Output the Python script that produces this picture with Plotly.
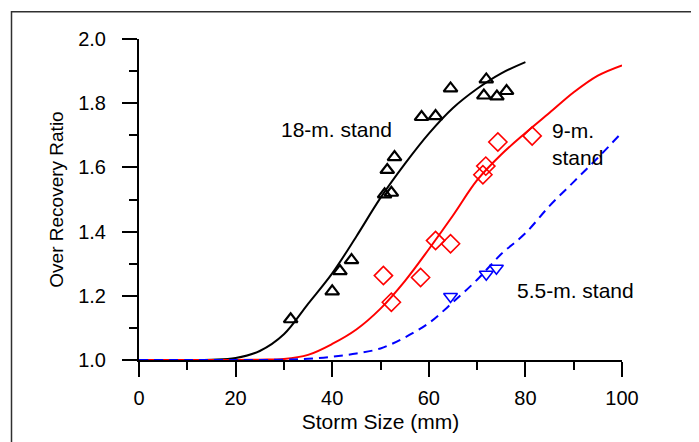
import plotly.graph_objects as go

# ---- data ----
tri18_x = [31.4, 40.0, 41.6, 44.0, 50.85, 52.25, 51.4, 52.9, 58.5, 61.4, 64.5, 71.9, 71.4, 74.1, 76.1]
tri18_y = [1.127, 1.214, 1.277, 1.311, 1.516, 1.521, 1.592, 1.632, 1.757, 1.760, 1.846, 1.874, 1.824, 1.821, 1.838]

dia9_x = [50.6, 52.25, 58.3, 61.4, 64.5, 71.2, 71.8, 74.3, 81.4]
dia9_y = [1.263, 1.180, 1.257, 1.372, 1.362, 1.577, 1.604, 1.679, 1.698]

tri55_x = [64.5, 71.9, 74.0]
tri55_y = [1.198, 1.267, 1.286]

fit18_x = [0, 10, 15, 20, 25, 30, 35, 40, 45, 50, 55, 60, 65, 70, 75, 80]
fit18_y = [1.0, 1.0, 1.001, 1.006, 1.028, 1.08, 1.175, 1.27, 1.385, 1.505, 1.61, 1.705, 1.785, 1.845, 1.893, 1.928]

fit9_x = [0, 10, 20, 25, 30, 35, 40, 45, 50, 55, 60, 65, 70, 75, 80, 85, 90, 95, 100]
fit9_y = [1.0, 1.0, 1.0, 1.001, 1.003, 1.016, 1.05, 1.095, 1.16, 1.245, 1.345, 1.45, 1.56, 1.64, 1.707, 1.77, 1.834, 1.886, 1.918]

fit55_x = [0, 10, 20, 30, 35, 40, 45, 50, 55, 60, 65, 70, 75, 80, 85, 90, 95, 100]
fit55_y = [1.0, 1.0, 1.0, 1.001, 1.004, 1.01, 1.02, 1.036, 1.07, 1.115, 1.18, 1.25, 1.33, 1.395, 1.48, 1.555, 1.63, 1.709]

x_ticks = [0, 20, 40, 60, 80, 100]
y_ticks = [1.0, 1.2, 1.4, 1.6, 1.8, 2.0]

labels = ["18-m. stand", "9-m.<br>stand", "5.5-m. stand"]
label_x = [40.9, 85.0, 90.4]
label_y = [1.719, 1.674, 1.218]

FONT = "Liberation Sans, Arial, sans-serif"

fig = go.Figure()
fig.add_trace(go.Scatter(x=fit18_x, y=fit18_y, mode="lines", line=dict(color="black", width=2), line_shape="spline"))
fig.add_trace(go.Scatter(x=fit9_x, y=fit9_y, mode="lines", line=dict(color="#ff0000", width=2), line_shape="spline"))
fig.add_trace(go.Scatter(x=fit55_x, y=fit55_y, mode="lines", line=dict(color="#0000ff", width=2, dash="9px,6px"), line_shape="spline"))
fig.add_trace(go.Scatter(x=tri18_x, y=tri18_y, mode="markers",
                         marker=dict(symbol="triangle-up-open", size=12, color="black", line=dict(width=2.2, color="black")),
                         cliponaxis=False))
fig.add_trace(go.Scatter(x=dia9_x, y=dia9_y, mode="markers",
                         marker=dict(symbol="diamond-open", size=14, color="#ff0000", line=dict(width=1.6, color="#ff0000")),
                         cliponaxis=False))
fig.add_trace(go.Scatter(x=tri55_x, y=tri55_y, mode="markers",
                         marker=dict(symbol="triangle-down-open", size=12, color="#0000ff", line=dict(width=1.6, color="#0000ff")),
                         cliponaxis=False))

for t, x, y in zip(labels, label_x, label_y):
    fig.add_annotation(x=x, y=y, text=t, showarrow=False, xref="x", yref="y",
                       xanchor="left" if "<br>" in t else "center", yanchor="middle", align="left",
                       font=dict(family=FONT, size=21, color="black"))

# page places the figure at an 8px body margin
OFF = 8
W, H = 699 - OFF, 442 - OFF
L, T = 139 - OFF, 39 - OFF
R, B = 699 - 622, 442 - 362
pw, ph = W - L - R, H - T - B

def px2paper_x(p):
    return (p - OFF - L) / pw

def px2paper_y(p):
    return (H - B - (p - OFF)) / ph

# outer frame
fig.add_shape(type="rect", xref="paper", yref="paper",
              x0=px2paper_x(11.5), x1=px2paper_x(694), y0=px2paper_y(446), y1=px2paper_y(11.5),
              line=dict(color="#303030", width=1.5), fillcolor="rgba(0,0,0,0)")

fig.update_layout(
    width=W, height=H, margin=dict(l=L, r=R, t=T, b=B, pad=0),
    plot_bgcolor="white", paper_bgcolor="white", showlegend=False,
    font=dict(family=FONT, size=20, color="black"),
)
fig.update_xaxes(range=[0, 100], tickvals=x_ticks, ticks="outside", ticklen=15, tickwidth=2, tickcolor="black",
                 showline=True, linewidth=2, linecolor="black", showgrid=False, zeroline=False,
                 layer="below traces", ticklabelstandoff=4,
                 minor=dict(dtick=10, ticks="outside", ticklen=8, tickwidth=2, tickcolor="black", showgrid=False),
                 title=dict(text="Storm Size (mm)", font=dict(family=FONT, size=21), standoff=6),
                 tickfont=dict(family=FONT, size=20))
fig.update_yaxes(range=[1.0, 2.0], tickvals=y_ticks, tickformat=".1f", ticks="outside", ticklen=15, tickwidth=2,
                 tickcolor="black", showline=True, linewidth=2, linecolor="black", showgrid=False, zeroline=False,
                 layer="below traces", ticklabelstandoff=12,
                 minor=dict(dtick=0.1, ticks="outside", ticklen=8, tickwidth=2, tickcolor="black", showgrid=False),
                 title=dict(text="Over Recovery Ratio", font=dict(family=FONT, size=19), standoff=10),
                 tickfont=dict(family=FONT, size=20))

fig.write_html("out.html")
